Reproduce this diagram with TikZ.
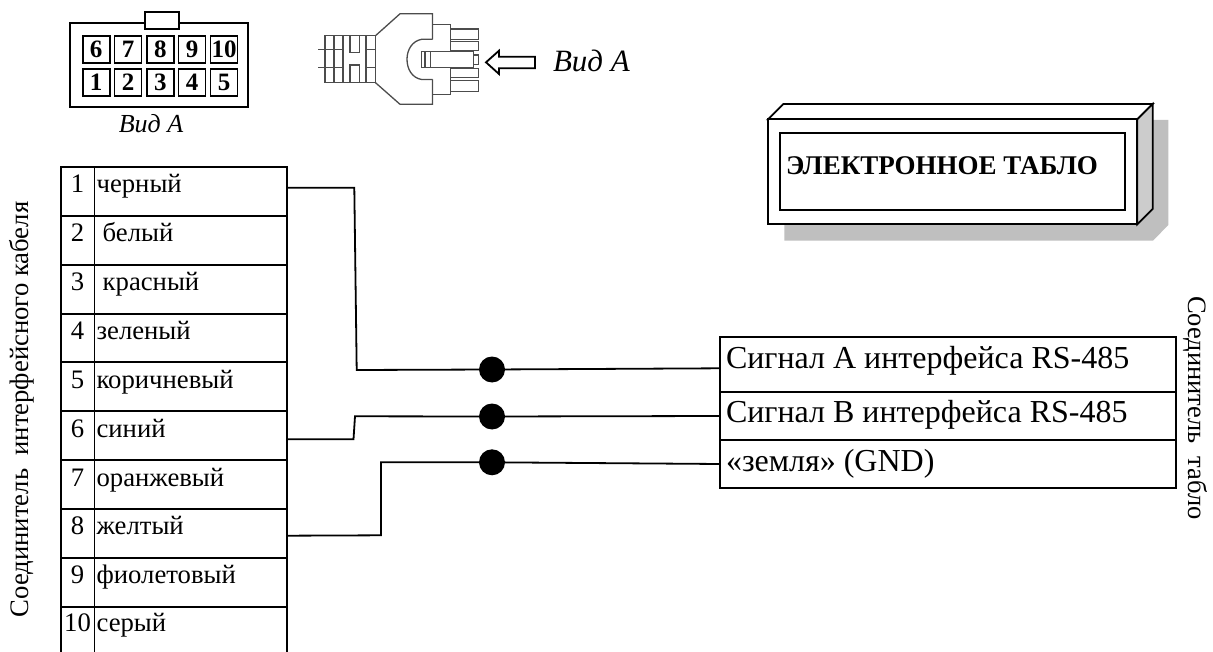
\documentclass[tikz,border=0pt]{standalone}
\usepackage{fontspec}
\setmainfont{Liberation Serif}
\newcommand{\fsz}[1]{\fontsize{#1}{#1}\selectfont}
\tikzset{
  every node/.style={outer sep=0pt},
  ln/.style={line width=1.8pt,draw=black,line join=miter},
  thin ln/.style={line width=1.3pt,draw=black!70},
  txt/.style={inner sep=0pt,anchor=base west,font=\fsz{26.7}},
  numtxt/.style={inner sep=0pt,anchor=base,font=\fsz{26.7}},
  pinbox/.style={ln,minimum width=27pt,minimum height=27pt,inner sep=0pt,fill=white,font=\fsz{25}\bfseries},
  cellbox/.style={ln,inner sep=0pt,anchor=north west},
  dot/.style={circle,fill=black,inner sep=0pt,minimum size=26pt},
}
\begin{document}
\begin{tikzpicture}[x=1pt,y=-1pt]
\useasboundingbox (0,0) rectangle (1213,652);
% pin view
\node[ln,anchor=north west,minimum width=177.7pt,minimum height=84pt,inner sep=0pt] (housing) at (70,23.3) {};
\node[ln,fill=white,minimum width=34pt,minimum height=17pt,inner sep=0pt] (latch) at (162,20.5) {};
\foreach \n/\x in {6/96.2,7/128,8/160.3,9/192,10/224}{
  \node[pinbox] (p\n) at (\x,49.2) {\n};}
\foreach \n/\x in {1/96.2,2/128,3/160.3,4/192,5/224}{
  \node[pinbox] (p\n) at (\x,82.7) {\n};}
\node[inner sep=0pt,anchor=base,font=\fsz{26}\itshape] (viewA) at (151,132.7) {Вид А};
% plug sketch
\begin{scope}[thin ln]
\draw (325,35.7) rectangle (375.5,82.7);
\foreach \x in {334,343,366}{\draw (\x,35.7) -- (\x,82.7);}
\draw (350,35.7) -- (350,52.7) -- (359.5,52.7) -- (359.5,35.7);
\draw (350,82.7) -- (350,65) -- (359.5,65) -- (359.5,82.7);
\draw (325,49.3) -- (343,49.3) (366,49.3) -- (375.5,49.3);
\draw (325,67.7) -- (343,67.7) (366,67.7) -- (375.5,67.7);
\draw (318,49.3) -- (325,49.3) (318,67.7) -- (325,67.7);
\draw (375.5,35.7) -- (400,13.8) -- (432.5,13.8) -- (432.5,39.3);
\draw (375.5,82.7) -- (400,104.3) -- (432.5,104.3) -- (432.5,79.5);
\draw (432.5,24.3) -- (450.7,24.3) -- (450.7,51.7);
\draw (432.5,94.8) -- (450.7,94.8) -- (450.7,67.3);
\draw (432.5,39.3) -- (421.7,39.3) .. controls (412,41) and (407,50) .. (407,59.3) .. controls (407,69) and (412,78) .. (421.7,79.5) -- (432.5,79.5);
\draw (450.7,29) rectangle (478.3,39.3);
\draw (450.7,41.7) rectangle (478.3,50.7);
\draw (450.7,68.5) rectangle (478.3,77.7);
\draw (450.7,80.7) rectangle (478.3,91.7);
\draw[fill=white] (421.7,51.7) rectangle (473.3,67.3);
\draw (425,51.7) -- (425,67.3) (430.7,51.7) -- (430.7,67.3);
\draw (473.3,55) rectangle (478.3,64.3);
\end{scope}
\coordinate (arrowtip) at (486,62.3);
\draw[ln] (arrowtip) -- (499,50.7) -- (499,56.7) -- (535,56.7) -- (535,68.3) -- (499,68.3) -- (499,74) -- cycle;
\node[inner sep=0pt,anchor=base west,font=\fsz{31}\itshape] (viewB) at (553,71.7) {Вид А};
% display
\fill[black!25] (1152.7,120) -- (1168.3,120) -- (1168.3,225) -- (1153,240.7) -- (784.3,240.7) -- (784.3,224) -- cycle;
\draw[ln,fill=white] (768,119.3) -- (783.3,104) -- (1152.7,104) -- (1137.3,119.3) -- cycle;
\draw[ln,fill=black!20] (1137.3,119.3) -- (1152.7,104) -- (1152.7,209) -- (1137.3,224.3) -- cycle;
\node[ln,fill=white,anchor=north west,minimum width=369.3pt,minimum height=105pt,inner sep=0pt] (front) at (768,119.3) {};
\node[ln,anchor=north west,minimum width=345pt,minimum height=77.3pt,inner sep=0pt] (screen) at (780,132.7) {};
\node[inner sep=0pt,anchor=base west,font=\fsz{27}\bfseries] (title) at (786,174.3) {ЭЛЕКТРОННОЕ ТАБЛО};
% cable connector table
\foreach \r/\top/\h in {1/167/48.7,2/215.7/49,3/264.7/49,4/313.7/48.5,5/362.2/48.8,6/411/49,7/460/48.7,8/508.7/49,9/557.7/49}{
  \node[cellbox,minimum width=33.5pt,minimum height=\h pt] (n\r) at (61,\top) {};
  \node[cellbox,minimum width=192.5pt,minimum height=\h pt] (c\r) at (94.5,\top) {};
}
\draw[ln] (61,652) -- (61,606.7) -- (287,606.7) -- (287,652);
\draw[ln] (94.5,606.7) -- (94.5,652);
\foreach \r/\b/\name/\tx in {1/192.7/черный/96.6,2/241.7/белый/102.7,3/290.7/красный/102.7,4/340/зеленый/96.6,5/388/коричневый/96.6,6/437.7/синий/96.6,7/486/оранжевый/96.6,8/534.3/желтый/96.6,9/583.3/фиолетовый/96.6,10/631.7/серый/96.6}{
  \node[numtxt] (num\r) at (77.5,\b) {\r};
  \node[txt] (col\r) at (\tx,\b) {\name};
}
\node[inner sep=0pt,rotate=90,anchor=center,font=\fsz{26.7}] (leftcap) at (22,409.5) {Соединитель\ \ интерфейсного кабеля};
% display connector table
\node[cellbox,minimum width=456pt,minimum height=55pt] (sA) at (720,337) {};
\node[cellbox,minimum width=456pt,minimum height=48pt] (sB) at (720,392) {};
\node[cellbox,minimum width=456pt,minimum height=48pt] (sG) at (720,440) {};
\node[inner sep=0pt,anchor=base west,font=\fsz{32}] (tA) at (726,368) {Сигнал А интерфейса RS-485};
\node[inner sep=0pt,anchor=base west,font=\fsz{32}] (tB) at (726,422.5) {Сигнал В интерфейса RS-485};
\node[inner sep=0pt,anchor=base west,font=\fsz{32}] (tG) at (726,471.7) {«земля» (GND)};
\node[inner sep=0pt,rotate=-90,anchor=center,font=\fsz{26.5}] (rightcap) at (1195,408) {Соединитель\ \ табло};
% junction dots
\node[dot] (d1) at (492,369.5) {};
\node[dot] (d2) at (492,416.5) {};
\node[dot] (d3) at (492,462.3) {};
% wires
\coordinate (w1s) at (287,187.7);
\coordinate (w2s) at (287,439.3);
\coordinate (w3s) at (287,535.7);
\coordinate (w1e) at (720,368.3);
\coordinate (w2e) at (720,416);
\coordinate (w3e) at (720,464);
\draw[ln] (w1s) -- (354.3,187.7) -- (356.7,370) -- (d1);
\draw[ln] (d1) -- (w1e);
\draw[ln] (w2s) -- (353.5,439.3) -- (355,416.3) -- (d2);
\draw[ln] (d2) -- (w2e);
\draw[ln] (w3s) -- (381,535.3) -- (381,462.3) -- (d3);
\draw[ln] (d3) -- (w3e);
\end{tikzpicture}
\end{document}
